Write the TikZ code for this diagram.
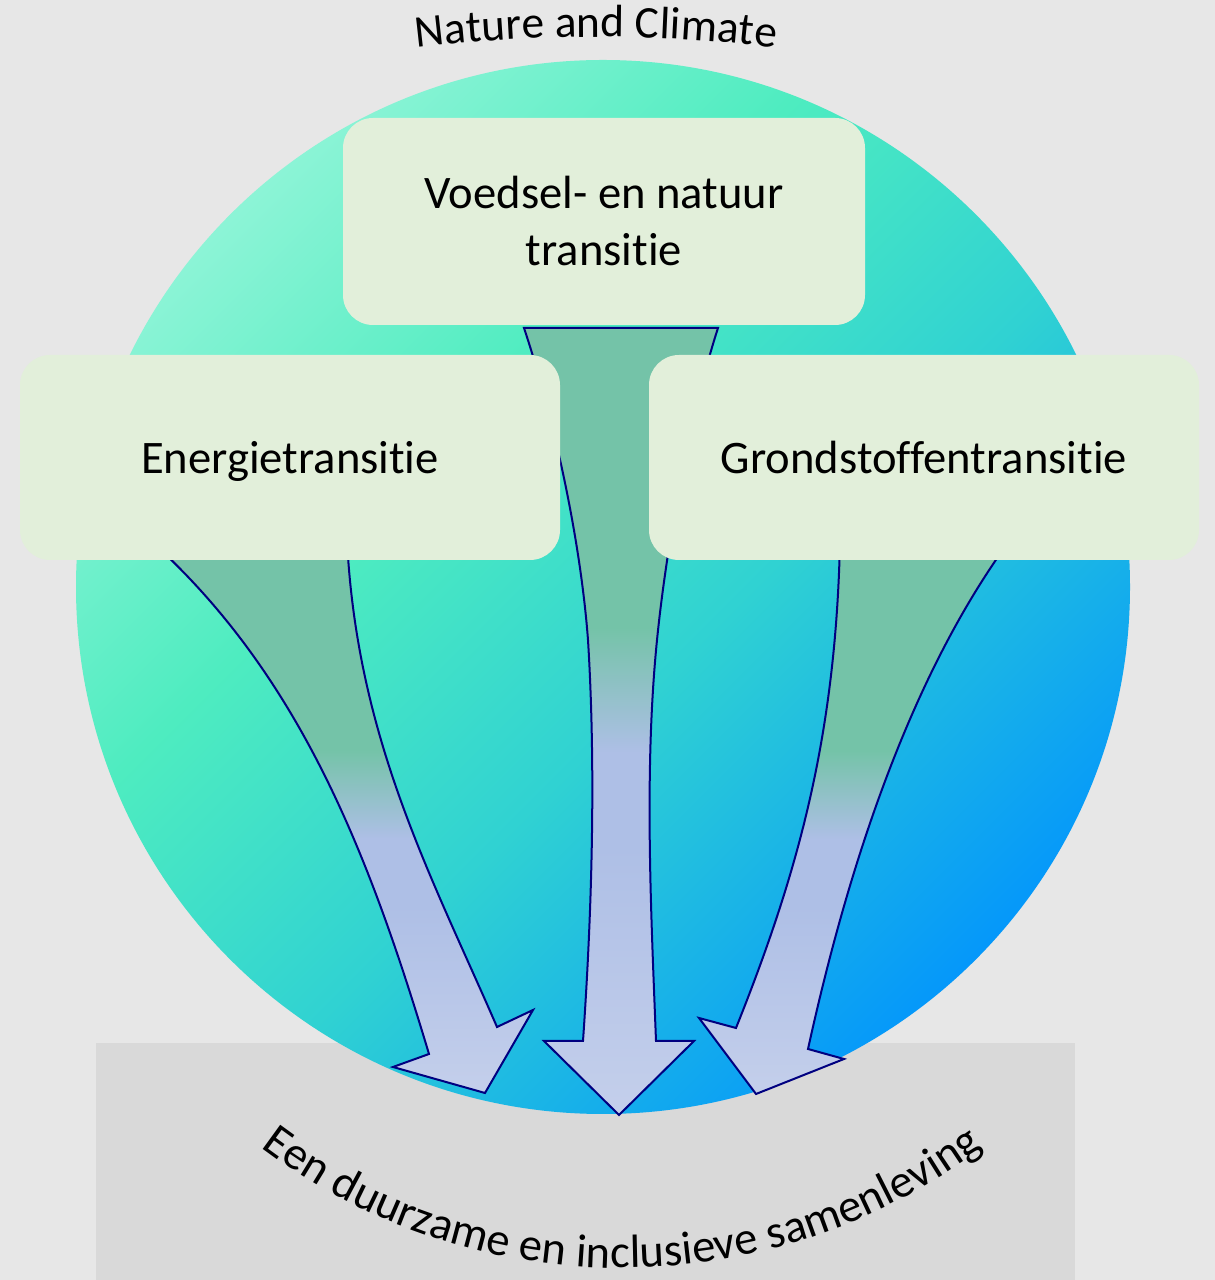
\documentclass[tikz,border=0pt]{standalone}
\usepackage{fontspec}
\setmainfont{Carlito}[Ligatures=NoCommon]
\usetikzlibrary{decorations.text}

\definecolor{bggray}{HTML}{E7E7E7}
\definecolor{basegray}{HTML}{D9D9D9}
\definecolor{boxgreen}{HTML}{E2EFDA}
\definecolor{arrowgreen}{HTML}{74C3A8}
\definecolor{arrowblue}{HTML}{AEBFE6}
\definecolor{arrowpale}{HTML}{C4CFEB}
\definecolor{arrowline}{HTML}{000080}
\definecolor{globeA}{HTML}{8CF4D6}
\definecolor{globeB}{HTML}{4EECC0}
\definecolor{globeC}{HTML}{30D2D2}
\definecolor{globeD}{HTML}{0598FA}

\pgfdeclareverticalshading{arrowshade}{100bp}{color(0bp)=(arrowpale); color(25bp)=(arrowpale); color(42bp)=(arrowblue); color(48bp)=(arrowblue); color(56bp)=(arrowgreen); color(100bp)=(arrowgreen)}
\pgfdeclarehorizontalshading{globeshade}{100bp}{color(0bp)=(globeA); color(25bp)=(globeA); color(40bp)=(globeB); color(55bp)=(globeC); color(75bp)=(globeD); color(100bp)=(globeD)}

\newcommand\boxsize{\fontsize{23.3}{28.5}\selectfont}
\newcommand\titlesize{\fontsize{22.7}{27}\selectfont}
\newcommand\basesize{\fontsize{23.3}{28}\selectfont}

\begin{document}
\begin{tikzpicture}[x=0.5pt,y=0.5pt,
  box/.style={fill=boxgreen, rounded corners=15pt, align=center, inner sep=0pt, font=\boxsize},
  sidebox/.style={box, minimum height=102.5pt, text height=16pt, text depth=0pt},
  flow/.style={draw=arrowline, line width=1pt, shading=arrowshade, line join=miter}]
\useasboundingbox (0,0) rectangle (1215,1280);
% Background
\fill[bggray] (0,0) rectangle (1215,1280);
\fill[basegray] (96,0) rectangle (1075,237);
% Globe
\shade[shading=globeshade, shading angle=-45] (603,693) circle[radius=263.5pt];
% Arrows
\draw[flow] (150,740) .. controls (300,605) and (369,426) .. (429,226)
  -- (393,213) -- (485,187) -- (533,270) -- (497,253)
  .. controls (432,403) and (357,540) .. (347,740) -- cycle;
\draw[flow] (718,952) .. controls (692,872) and (667,740) .. (657,640)
  .. controls (644,510) and (651,369) .. (656,239)
  -- (694,239) -- (619,165) -- (544,239) -- (583,239)
  .. controls (592,369) and (596,510) .. (588,640)
  .. controls (580.5,740) and (554,862) .. (524,952) -- cycle;
\draw[flow] (1010,740) .. controls (900,590) and (841,381) .. (808,231)
  -- (844,221) -- (756,186) -- (699,262) -- (736,252)
  .. controls (796,402) and (836,540) .. (840,740) -- cycle;
% Boxes
\node[box, minimum width=261pt, minimum height=103.5pt] (food) at (604,1058.5) {Voedsel- en natuur\\transitie};
\node[sidebox, minimum width=270pt] (energy) at (290,822.5) {Energietransitie};
\node[sidebox, minimum width=275pt] (materials) at (924,822.5) {Grondstoffentransitie};
% Curved labels
\path[decorate, decoration={text along path, text align=center, text={|\titlesize|Nature and Climate}}]
  (596,-254) ++(105:748.5pt) arc[start angle=105, end angle=75, radius=748.5pt];
\path[decorate, decoration={text along path, text align=center, text={|\basesize|Een duurzame en inclusieve samenleving}}]
  (622,612) ++(220:300pt) arc[start angle=220, end angle=320, radius=300pt];
\end{tikzpicture}
\end{document}
